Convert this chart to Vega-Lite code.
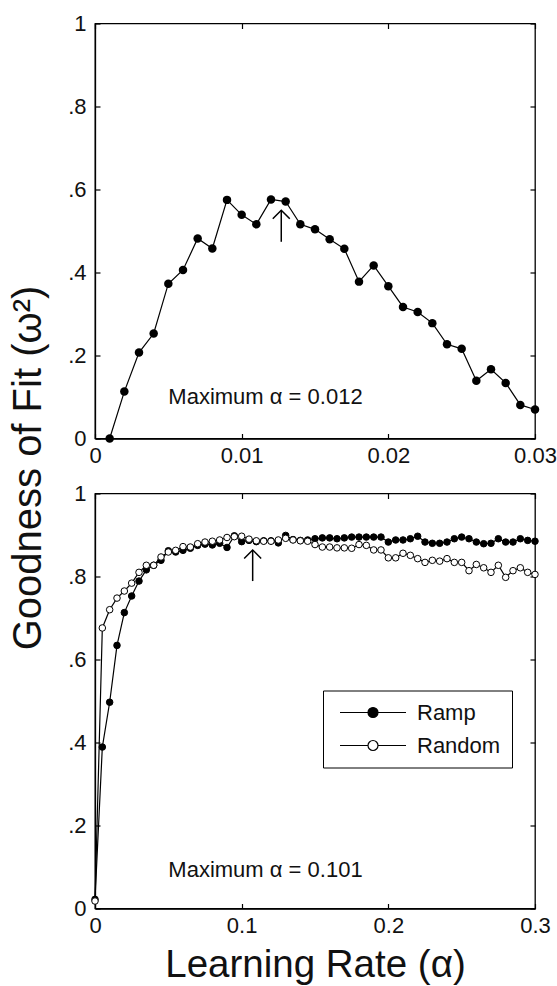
{
  "$schema": "https://vega.github.io/schema/vega-lite/v6.json",
  "background": "white",
  "padding": {"left": 7, "top": 11.5, "right": 0, "bottom": 0},
  "config": {
    "font": "Liberation Sans",
    "view": {"stroke": "black", "strokeWidth": 1.3},
    "axis": {
      "labelFont": "Liberation Sans", "labelFontSize": 22, "labelColor": "#111",
      "tickColor": "black", "domainColor": "black", "domainWidth": 1.3, "tickWidth": 1.2,
      "grid": false, "tickSize": -5, "labelFlush": false,
      "titleFont": "Liberation Sans", "titleFontSize": 38, "titleFontWeight": "normal", "titleColor": "#111"
    },
    "axisX": {"labelPadding": 12},
    "axisY": {"labelPadding": 14}
  },
  "datasets": {
    "top": [
      {"a": 0.001, "g": 0.0}, {"a": 0.002, "g": 0.113}, {"a": 0.003, "g": 0.207}, {"a": 0.004, "g": 0.253},
      {"a": 0.005, "g": 0.373}, {"a": 0.006, "g": 0.406}, {"a": 0.007, "g": 0.482}, {"a": 0.008, "g": 0.458},
      {"a": 0.009, "g": 0.575}, {"a": 0.010, "g": 0.539}, {"a": 0.011, "g": 0.516}, {"a": 0.012, "g": 0.576},
      {"a": 0.013, "g": 0.571}, {"a": 0.014, "g": 0.516}, {"a": 0.015, "g": 0.504}, {"a": 0.016, "g": 0.480},
      {"a": 0.017, "g": 0.457}, {"a": 0.018, "g": 0.378}, {"a": 0.019, "g": 0.417}, {"a": 0.020, "g": 0.367},
      {"a": 0.021, "g": 0.317}, {"a": 0.022, "g": 0.305}, {"a": 0.023, "g": 0.278}, {"a": 0.024, "g": 0.227},
      {"a": 0.025, "g": 0.216}, {"a": 0.026, "g": 0.139}, {"a": 0.027, "g": 0.167}, {"a": 0.028, "g": 0.134},
      {"a": 0.029, "g": 0.081}, {"a": 0.030, "g": 0.070}
    ],
    "bottom": [
      {"s": "Ramp", "a": 0, "g": 0.022}, {"s": "Ramp", "a": 0.005, "g": 0.389}, {"s": "Ramp", "a": 0.01, "g": 0.497},
      {"s": "Ramp", "a": 0.015, "g": 0.634}, {"s": "Ramp", "a": 0.02, "g": 0.713}, {"s": "Ramp", "a": 0.025, "g": 0.753},
      {"s": "Ramp", "a": 0.03, "g": 0.789}, {"s": "Ramp", "a": 0.035, "g": 0.816}, {"s": "Ramp", "a": 0.04, "g": 0.827},
      {"s": "Ramp", "a": 0.045, "g": 0.839}, {"s": "Ramp", "a": 0.05, "g": 0.862}, {"s": "Ramp", "a": 0.055, "g": 0.859},
      {"s": "Ramp", "a": 0.06, "g": 0.863}, {"s": "Ramp", "a": 0.065, "g": 0.868}, {"s": "Ramp", "a": 0.07, "g": 0.875},
      {"s": "Ramp", "a": 0.075, "g": 0.878}, {"s": "Ramp", "a": 0.08, "g": 0.876}, {"s": "Ramp", "a": 0.085, "g": 0.880},
      {"s": "Ramp", "a": 0.09, "g": 0.870}, {"s": "Ramp", "a": 0.095, "g": 0.898}, {"s": "Ramp", "a": 0.1, "g": 0.884},
      {"s": "Ramp", "a": 0.105, "g": 0.887}, {"s": "Ramp", "a": 0.11, "g": 0.884}, {"s": "Ramp", "a": 0.115, "g": 0.886},
      {"s": "Ramp", "a": 0.12, "g": 0.886}, {"s": "Ramp", "a": 0.125, "g": 0.881}, {"s": "Ramp", "a": 0.13, "g": 0.899},
      {"s": "Ramp", "a": 0.135, "g": 0.889}, {"s": "Ramp", "a": 0.14, "g": 0.887}, {"s": "Ramp", "a": 0.145, "g": 0.888},
      {"s": "Ramp", "a": 0.15, "g": 0.891}, {"s": "Ramp", "a": 0.155, "g": 0.893}, {"s": "Ramp", "a": 0.16, "g": 0.893},
      {"s": "Ramp", "a": 0.165, "g": 0.891}, {"s": "Ramp", "a": 0.17, "g": 0.893}, {"s": "Ramp", "a": 0.175, "g": 0.895},
      {"s": "Ramp", "a": 0.18, "g": 0.895}, {"s": "Ramp", "a": 0.185, "g": 0.895}, {"s": "Ramp", "a": 0.19, "g": 0.895},
      {"s": "Ramp", "a": 0.195, "g": 0.895}, {"s": "Ramp", "a": 0.2, "g": 0.883}, {"s": "Ramp", "a": 0.205, "g": 0.888},
      {"s": "Ramp", "a": 0.21, "g": 0.888}, {"s": "Ramp", "a": 0.215, "g": 0.891}, {"s": "Ramp", "a": 0.22, "g": 0.897},
      {"s": "Ramp", "a": 0.225, "g": 0.883}, {"s": "Ramp", "a": 0.23, "g": 0.880}, {"s": "Ramp", "a": 0.235, "g": 0.880},
      {"s": "Ramp", "a": 0.24, "g": 0.883}, {"s": "Ramp", "a": 0.245, "g": 0.891}, {"s": "Ramp", "a": 0.25, "g": 0.895},
      {"s": "Ramp", "a": 0.255, "g": 0.891}, {"s": "Ramp", "a": 0.26, "g": 0.883}, {"s": "Ramp", "a": 0.265, "g": 0.879},
      {"s": "Ramp", "a": 0.27, "g": 0.880}, {"s": "Ramp", "a": 0.275, "g": 0.891}, {"s": "Ramp", "a": 0.28, "g": 0.883},
      {"s": "Ramp", "a": 0.285, "g": 0.883}, {"s": "Ramp", "a": 0.29, "g": 0.891}, {"s": "Ramp", "a": 0.295, "g": 0.887},
      {"s": "Ramp", "a": 0.3, "g": 0.885},
      {"s": "Random", "a": 0, "g": 0.018}, {"s": "Random", "a": 0.005, "g": 0.676}, {"s": "Random", "a": 0.01, "g": 0.72},
      {"s": "Random", "a": 0.015, "g": 0.748}, {"s": "Random", "a": 0.02, "g": 0.765}, {"s": "Random", "a": 0.025, "g": 0.784},
      {"s": "Random", "a": 0.03, "g": 0.81}, {"s": "Random", "a": 0.035, "g": 0.827}, {"s": "Random", "a": 0.04, "g": 0.827},
      {"s": "Random", "a": 0.045, "g": 0.847}, {"s": "Random", "a": 0.05, "g": 0.859}, {"s": "Random", "a": 0.055, "g": 0.863},
      {"s": "Random", "a": 0.06, "g": 0.872}, {"s": "Random", "a": 0.065, "g": 0.871}, {"s": "Random", "a": 0.07, "g": 0.879},
      {"s": "Random", "a": 0.075, "g": 0.883}, {"s": "Random", "a": 0.08, "g": 0.885}, {"s": "Random", "a": 0.085, "g": 0.888},
      {"s": "Random", "a": 0.09, "g": 0.894}, {"s": "Random", "a": 0.095, "g": 0.896}, {"s": "Random", "a": 0.1, "g": 0.897},
      {"s": "Random", "a": 0.105, "g": 0.890}, {"s": "Random", "a": 0.11, "g": 0.886}, {"s": "Random", "a": 0.115, "g": 0.885},
      {"s": "Random", "a": 0.12, "g": 0.885}, {"s": "Random", "a": 0.125, "g": 0.888}, {"s": "Random", "a": 0.13, "g": 0.892},
      {"s": "Random", "a": 0.135, "g": 0.888}, {"s": "Random", "a": 0.14, "g": 0.886}, {"s": "Random", "a": 0.145, "g": 0.885},
      {"s": "Random", "a": 0.15, "g": 0.877}, {"s": "Random", "a": 0.155, "g": 0.871}, {"s": "Random", "a": 0.16, "g": 0.871},
      {"s": "Random", "a": 0.165, "g": 0.869}, {"s": "Random", "a": 0.17, "g": 0.869}, {"s": "Random", "a": 0.175, "g": 0.868},
      {"s": "Random", "a": 0.18, "g": 0.877}, {"s": "Random", "a": 0.185, "g": 0.875}, {"s": "Random", "a": 0.19, "g": 0.864},
      {"s": "Random", "a": 0.195, "g": 0.864}, {"s": "Random", "a": 0.2, "g": 0.845}, {"s": "Random", "a": 0.205, "g": 0.845},
      {"s": "Random", "a": 0.21, "g": 0.856}, {"s": "Random", "a": 0.215, "g": 0.851}, {"s": "Random", "a": 0.22, "g": 0.843},
      {"s": "Random", "a": 0.225, "g": 0.834}, {"s": "Random", "a": 0.23, "g": 0.839}, {"s": "Random", "a": 0.235, "g": 0.837},
      {"s": "Random", "a": 0.24, "g": 0.843}, {"s": "Random", "a": 0.245, "g": 0.834}, {"s": "Random", "a": 0.25, "g": 0.834},
      {"s": "Random", "a": 0.255, "g": 0.814}, {"s": "Random", "a": 0.26, "g": 0.829}, {"s": "Random", "a": 0.265, "g": 0.821},
      {"s": "Random", "a": 0.27, "g": 0.810}, {"s": "Random", "a": 0.275, "g": 0.827}, {"s": "Random", "a": 0.28, "g": 0.798},
      {"s": "Random", "a": 0.285, "g": 0.814}, {"s": "Random", "a": 0.29, "g": 0.821}, {"s": "Random", "a": 0.295, "g": 0.810},
      {"s": "Random", "a": 0.3, "g": 0.805}
    ]
  },
  "bounds": "flush",
  "spacing": 55,
  "vconcat": [
    {
      "width": 440,
      "height": 415,
      "resolve": {"axis": {"x": "independent", "y": "independent"}},
      "layer": [
        {
          "data": {"name": "top"},
          "mark": {"type": "line", "color": "black", "strokeWidth": 1.2},
          "encoding": {
            "x": {"field": "a", "type": "quantitative", "scale": {"domain": [0, 0.03], "nice": false},
                  "axis": {"orient": "bottom", "values": [0, 0.01, 0.02, 0.03], "title": null,
                           "labelExpr": "datum.value == 0 ? '0' : format(datum.value, '.2f')"}},
            "y": {"field": "g", "type": "quantitative", "scale": {"domain": [0, 1], "nice": false},
                  "axis": {"orient": "left", "values": [0, 0.2, 0.4, 0.6, 0.8, 1], "title": null,
                           "labelExpr": "datum.value == 0 ? '0' : datum.value == 1 ? '1' : replace(format(datum.value, '.1f'), '0.', '.')"}}
          }
        },
        {
          "data": {"name": "top"},
          "mark": {"type": "point", "filled": true, "color": "black", "size": 72, "opacity": 1},
          "encoding": {
            "x": {"field": "a", "type": "quantitative",
                  "axis": {"orient": "top", "values": [0, 0.01, 0.02, 0.03], "labels": false, "domain": false, "title": null}},
            "y": {"field": "g", "type": "quantitative",
                  "axis": {"orient": "right", "values": [0, 0.2, 0.4, 0.6, 0.8, 1], "labels": false, "domain": false, "title": null}}
          }
        },
        {
          "data": {"values": [{"a": 0.005, "g": 0.1, "t": "Maximum α = 0.012"}]},
          "mark": {"type": "text", "align": "left", "baseline": "middle", "fontSize": 22, "color": "#111", "font": "Liberation Sans"},
          "encoding": {
            "x": {"field": "a", "type": "quantitative", "axis": null},
            "y": {"field": "g", "type": "quantitative", "axis": null},
            "text": {"field": "t"}
          }
        },
        {
          "data": {"values": [{"a": 0.0127, "g": 0.474, "g2": 0.55}]},
          "mark": {"type": "rule", "color": "black", "strokeWidth": 1.5},
          "encoding": {
            "x": {"field": "a", "type": "quantitative", "axis": null},
            "y": {"field": "g", "type": "quantitative", "axis": null},
            "y2": {"field": "g2"}
          }
        },
        {
          "data": {"values": [{"a": 0.0127, "g2": 0.55}]},
          "mark": {"type": "point", "shape": "M-1,1L0,0L1,1", "filled": false, "stroke": "black", "strokeWidth": 1.5, "size": 289, "opacity": 1},
          "encoding": {
            "x": {"field": "a", "type": "quantitative", "axis": null},
            "y": {"field": "g2", "type": "quantitative", "axis": null}
          }
        }
      ]
    },
    {
      "width": 440,
      "height": 415,
      "resolve": {"axis": {"x": "independent", "y": "independent"}},
      "layer": [
        {
          "data": {"name": "bottom"},
          "mark": {"type": "line", "color": "black", "strokeWidth": 1.2},
          "encoding": {
            "detail": {"field": "s"},
            "x": {"field": "a", "type": "quantitative", "scale": {"domain": [0, 0.3], "nice": false},
                  "axis": {"orient": "bottom", "values": [0, 0.1, 0.2, 0.3], "title": "Learning Rate (α)",
                           "titleY": 68, "titleBaseline": "alphabetic", "titleFontSize": 38.5,
                           "labelExpr": "datum.value == 0 ? '0' : format(datum.value, '.1f')"}},
            "y": {"field": "g", "type": "quantitative", "scale": {"domain": [0, 1], "nice": false},
                  "axis": {"orient": "left", "values": [0, 0.2, 0.4, 0.6, 0.8, 1], "title": "Goodness of Fit (ω²)",
                           "titleX": -55, "titleY": -26, "titleBaseline": "alphabetic", "titleFontSize": 40,
                           "labelExpr": "datum.value == 0 ? '0' : datum.value == 1 ? '1' : replace(format(datum.value, '.1f'), '0.', '.')"}}
          }
        },
        {
          "data": {"name": "bottom"},
          "mark": {"type": "point", "filled": true, "stroke": "black", "strokeWidth": 1, "size": 43, "opacity": 1},
          "encoding": {
            "x": {"field": "a", "type": "quantitative",
                  "axis": {"orient": "top", "values": [0, 0.1, 0.2, 0.3], "labels": false, "domain": false, "title": null}},
            "y": {"field": "g", "type": "quantitative",
                  "axis": {"orient": "right", "values": [0, 0.2, 0.4, 0.6, 0.8, 1], "labels": false, "domain": false, "title": null}},
            "fill": {"field": "s", "type": "nominal",
                     "scale": {"domain": ["Ramp", "Random"], "range": ["black", "white"]},
                     "legend": {"orient": "none", "legendX": 228, "legendY": 667, "title": null,
                                "symbolType": "M-6.6,0H-1M1,0H6.6M1,0A1,1 0 1,1 -1,0A1,1 0 1,1 1,0Z",
                                "symbolSize": 100, "symbolStrokeColor": "black", "symbolStrokeWidth": 1.2,
                                "labelFontSize": 22, "labelFont": "Liberation Sans", "labelColor": "#111",
                                "strokeColor": "black", "fillColor": "white", "padding": 11, "rowPadding": 11,
                                "symbolOffset": 28, "labelOffset": 33,
                                "encode": {"symbols": {"update": {"stroke": {"value": "black"}, "strokeWidth": {"value": 1.2}}}}}}
          }
        },
        {
          "data": {"values": [{"a": 0.05, "g": 0.092, "t": "Maximum α = 0.101"}]},
          "mark": {"type": "text", "align": "left", "baseline": "middle", "fontSize": 22, "color": "#111", "font": "Liberation Sans"},
          "encoding": {
            "x": {"field": "a", "type": "quantitative", "axis": null},
            "y": {"field": "g", "type": "quantitative", "axis": null},
            "text": {"field": "t"}
          }
        },
        {
          "data": {"values": [{"a": 0.1075, "g": 0.789, "g2": 0.864}]},
          "mark": {"type": "rule", "color": "black", "strokeWidth": 1.5},
          "encoding": {
            "x": {"field": "a", "type": "quantitative", "axis": null},
            "y": {"field": "g", "type": "quantitative", "axis": null},
            "y2": {"field": "g2"}
          }
        },
        {
          "data": {"values": [{"a": 0.1075, "g2": 0.864}]},
          "mark": {"type": "point", "shape": "M-1,1L0,0L1,1", "filled": false, "stroke": "black", "strokeWidth": 1.5, "size": 289, "opacity": 1},
          "encoding": {
            "x": {"field": "a", "type": "quantitative", "axis": null},
            "y": {"field": "g2", "type": "quantitative", "axis": null}
          }
        }
      ]
    }
  ]
}
